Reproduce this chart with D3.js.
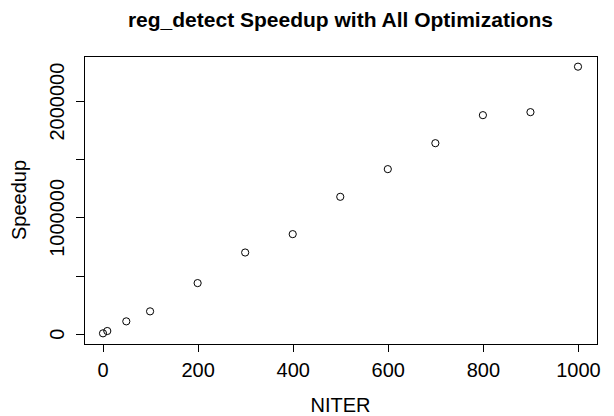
<!DOCTYPE html>
<html>
<head>
<meta charset="utf-8">
<script src="https://cdnjs.cloudflare.com/ajax/libs/d3/7.8.5/d3.min.js"></script>
<style>
	body { margin: 0; background: #fff; }
	text { font-family: 'Liberation Sans', Arial, sans-serif; fill: #000; }
</style>
</head>
<body>
<div id="chart"></div>
<script>
let width = 614
let height = 416

let margins = {
	top : 56,
	right : 17,
	bottom : 72,
	left : 84,
}

// data
let niter = [1, 10, 50, 100, 200, 300, 400, 500, 600, 700, 800, 900, 1000]
let speedup = [3000, 23000, 106000, 192000, 435000, 698000, 856000, 1177000, 1415000, 1638000, 1879000, 1905000, 2296000]
let xTicks = [0, 200, 400, 600, 800, 1000]
let yTicks = [0, 500000, 1000000, 1500000, 2000000]
let yTickLabels = ['0', '', '1000000', '', '2000000']

let titleText = 'reg_detect Speedup with All Optimizations'
let xLabel = 'NITER'
let yLabel = 'Speedup'

let fontSize = 20

// R style 4% padding
function pad(ext) {
	let d = (ext[1] - ext[0]) * 0.04
	return [ext[0] - d, ext[1] + d]
}

let innerW = width - margins.left - margins.right
let innerH = height - margins.top - margins.bottom

let xScale = d3.scaleLinear()
	.domain(pad(d3.extent(niter)))
	.range([0, innerW])

let yScale = d3.scaleLinear()
	.domain(pad(d3.extent(speedup)))
	.range([innerH, 0])

let svg = d3.select('#chart').append('svg')
	.attr('width', width)
	.attr('height', height)

let inner = svg.append('g')
	.attr('transform', `translate(${margins.left},${margins.top})`)

inner.append('rect')
	.attr('x', 0)
	.attr('y', 0)
	.attr('width', innerW)
	.attr('height', innerH)
	.attr('fill', 'none')
	.attr('stroke', '#000')
	.attr('stroke-width', 1)
	.attr('shape-rendering', 'crispEdges')

let xAxis = d3.axisBottom(xScale)
	.tickValues(xTicks)
	.tickSize(8)
	.tickPadding(11)
	.tickFormat(d3.format('d'))

let yAxis = d3.axisLeft(yScale)
	.tickValues(yTicks)
	.tickSize(8)
	.tickFormat((d, i) => yTickLabels[i])

let xg = inner.append('g')
	.attr('transform', `translate(0,${innerH})`)
	.call(xAxis)

let yg = inner.append('g')
	.call(yAxis)

// R draws axis line only between first and last tick
xg.select('.domain')
	.attr('d', `M${xScale(xTicks[0])},0H${xScale(xTicks[xTicks.length - 1])}`)
yg.select('.domain')
	.attr('d', `M0,${yScale(yTicks[0])}V${yScale(yTicks[yTicks.length - 1])}`)

inner.selectAll('.domain, .tick line')
	.attr('stroke', '#000')
	.attr('shape-rendering', 'crispEdges')

xg.selectAll('.tick text')
	.attr('font-size', fontSize)
	.attr('font-family', "'Liberation Sans', Arial, sans-serif")

yg.selectAll('.tick text')
	.attr('font-size', fontSize)
	.attr('font-family', "'Liberation Sans', Arial, sans-serif")
	.attr('text-anchor', 'middle')
	.attr('transform', 'rotate(-90)')
	.attr('x', 0)
	.attr('dy', 0)
	.attr('y', -20)

let marks = inner.append('g')

marks.selectAll('circle')
	.data(niter)
	.enter()
	.append('circle')
	.attr('cx', (d) => xScale(d))
	.attr('cy', (d, i) => yScale(speedup[i]))
	.attr('r', 3.6)
	.attr('fill', 'none')
	.attr('stroke', '#000')
	.attr('stroke-width', 1)

svg.append('text')
	.text(titleText)
	.attr('x', margins.left + innerW / 2)
	.attr('y', 27)
	.attr('text-anchor', 'middle')
	.attr('font-size', 21)
	.attr('font-weight', 'bold')

svg.append('text')
	.text(xLabel)
	.attr('x', margins.left + innerW / 2)
	.attr('y', 412)
	.attr('text-anchor', 'middle')
	.attr('font-size', fontSize)

svg.append('text')
	.text(yLabel)
	.attr('transform', `translate(26,${margins.top + innerH / 2}) rotate(-90)`)
	.attr('text-anchor', 'middle')
	.attr('font-size', fontSize)
</script>
</body>
</html>
